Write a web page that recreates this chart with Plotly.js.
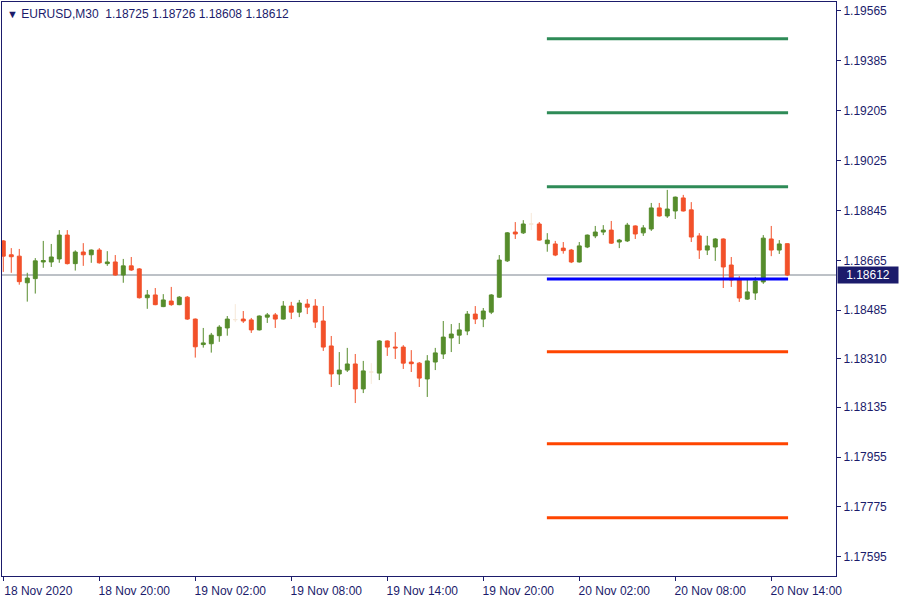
<!DOCTYPE html>
<html>
<head>
<meta charset="utf-8">
<script src="https://cdn.plot.ly/plotly-3.0.1.min.js"></script>
<style>html,body{margin:0;padding:0;background:#fff;}#chart{width:900px;height:600px;}</style>
</head>
<body>
<div id="chart"></div>
<script>
// ---- Data (EURUSD, M30; bar 0 = 18 Nov 2020 14:00) ----
const symbol = "EURUSD,M30";
const open = [1.18735,1.18685,1.18680,1.18584,1.18599,1.18659,1.18659,1.18670,1.18756,1.18653,
1.18695,1.18685,1.18702,1.18653,1.18659,1.18612,1.18645,1.18634,1.18530,1.18540,
1.18498,1.18518,1.18505,1.18532,1.18453,1.18361,1.18364,1.18393,1.18421,1.18451,
1.18453,1.18450,1.18414,1.18460,1.18468,1.18453,1.18500,1.18478,1.18507,1.18500,
1.18446,1.18356,1.18255,1.18269,1.18291,1.18201,1.18262,1.18258,1.18374,1.18352,
1.18352,1.18298,1.18294,1.18237,1.18298,1.18327,1.18385,1.18395,1.18410,1.18471,
1.18453,1.18478,1.18532,1.18663,1.18767,1.18764,1.18796,1.18796,1.18725,1.18724,
1.18709,1.18702,1.18659,1.18713,1.18753,1.18767,1.18774,1.18731,1.18735,1.18789,
1.18764,1.18778,1.18854,1.18825,1.18843,1.18890,1.18847,1.18753,1.18702,1.18713,
1.18742,1.18648,1.18594,1.18525,1.18547,1.18587,1.18742,1.18702,1.18725];
const high = [1.18738,1.18709,1.18706,1.18620,1.18673,1.18735,1.18724,1.18774,1.18774,1.18701,
1.18727,1.18704,1.18709,1.18698,1.18684,1.18670,1.18677,1.18637,1.18558,1.18565,
1.18543,1.18569,1.18536,1.18536,1.18455,1.18421,1.18403,1.18431,1.18464,1.18507,
1.18482,1.18457,1.18466,1.18475,1.18475,1.18518,1.18515,1.18522,1.18525,1.18525,
1.18500,1.18392,1.18334,1.18349,1.18327,1.18302,1.18294,1.18377,1.18376,1.18406,
1.18359,1.18341,1.18298,1.18323,1.18349,1.18446,1.18435,1.18439,1.18482,1.18500,
1.18493,1.18543,1.18684,1.18767,1.18803,1.18810,1.18836,1.18803,1.18763,1.18735,
1.18731,1.18706,1.18731,1.18758,1.18789,1.18792,1.18807,1.18742,1.18800,1.18791,
1.18792,1.18872,1.18872,1.18919,1.18895,1.18901,1.18875,1.18763,1.18753,1.18745,
1.18744,1.18677,1.18608,1.18594,1.18605,1.18756,1.18789,1.18738,1.18726];
const low = [1.18623,1.18620,1.18577,1.18516,1.18545,1.18638,1.18641,1.18656,1.18650,1.18628,
1.18645,1.18656,1.18653,1.18645,1.18610,1.18584,1.18627,1.18527,1.18490,1.18503,
1.18496,1.18501,1.18503,1.18450,1.18314,1.18350,1.18332,1.18371,1.18393,1.18442,
1.18439,1.18403,1.18412,1.18439,1.18421,1.18451,1.18453,1.18460,1.18471,1.18421,
1.18338,1.18208,1.18215,1.18262,1.18150,1.18186,1.18219,1.18233,1.18320,1.18309,
1.18273,1.18262,1.18208,1.18172,1.18269,1.18309,1.18334,1.18363,1.18395,1.18435,
1.18424,1.18471,1.18529,1.18659,1.18742,1.18760,1.18774,1.18736,1.18696,1.18680,
1.18689,1.18655,1.18657,1.18709,1.18745,1.18756,1.18724,1.18709,1.18731,1.18742,
1.18753,1.18771,1.18823,1.18818,1.18814,1.18841,1.18731,1.18670,1.18684,1.18663,
1.18565,1.18569,1.18515,1.18522,1.18522,1.18580,1.18680,1.18688,1.18608];
const close = [1.18680,1.18678,1.18588,1.18601,1.18663,1.18664,1.18677,1.18756,1.18653,1.18695,
1.18685,1.18702,1.18656,1.18659,1.18612,1.18645,1.18630,1.18530,1.18540,1.18505,
1.18522,1.18505,1.18532,1.18453,1.18353,1.18367,1.18395,1.18424,1.18453,1.18451,
1.18446,1.18414,1.18464,1.18468,1.18453,1.18500,1.18478,1.18511,1.18496,1.18442,
1.18352,1.18255,1.18269,1.18291,1.18201,1.18266,1.18262,1.18374,1.18352,1.18349,
1.18294,1.18292,1.18240,1.18302,1.18331,1.18388,1.18399,1.18414,1.18471,1.18453,
1.18482,1.18540,1.18666,1.18764,1.18760,1.18796,1.18796,1.18738,1.18738,1.18684,
1.18700,1.18659,1.18717,1.18756,1.18767,1.18774,1.18727,1.18738,1.18792,1.18760,
1.18782,1.18854,1.18825,1.18850,1.18893,1.18843,1.18749,1.18702,1.18717,1.18742,
1.18641,1.18594,1.18529,1.18551,1.18590,1.18745,1.18702,1.18724,1.18612];

// time axis tick labels (every 12 bars = 6 hours)
const xTickBars = [0, 12, 24, 36, 48, 60, 72, 84, 96];
const xTickText = ["18 Nov 2020","18 Nov 20:00","19 Nov 02:00","19 Nov 08:00","19 Nov 14:00","19 Nov 20:00","20 Nov 02:00","20 Nov 08:00","20 Nov 14:00"];
const yTickText = ["1.19565","1.19385","1.19205","1.19025","1.18845","1.18665","1.18485","1.18310","1.18135","1.17955","1.17775","1.17595"];

// pivot-type levels for 20 Nov (start bar, end bar)
const levelStartBar = 68, levelEndBar = 98;
const resistLevels = [1.19464, 1.19197, 1.18930];
const pivotLevel = [1.18598];
const supportLevels = [1.18335, 1.18003, 1.17736];

// ---- Build traces ----
const NAVY = "#1b1b6b";
const UP = "#568c2c", DOWN = "#f2512a", DOJI = "#f6e8d8";
const idx = open.map((_, i) => i);
const normal = idx.filter(i => open[i] !== close[i]);
const doji = idx.filter(i => open[i] === close[i]);
function pick(arr, ids){ return ids.map(i => arr[i]); }

const traces = [];
function levelTrace(vals, color){
  const xs = [], ys = [];
  vals.forEach(v => { xs.push(levelStartBar - 0.05, levelEndBar + 0.1, null); ys.push(v, v, null); });
  return {type:'scatter', mode:'lines', x:xs, y:ys, line:{color:color, width:3}, hoverinfo:'skip', showlegend:false};
}
traces.push(levelTrace(resistLevels, "#2e8b57"));
traces.push(levelTrace(supportLevels, "#ff4500"));
traces.push(levelTrace(pivotLevel, "#0000ff"));

traces.push({
  type:'candlestick', x:pick(idx, normal), open:pick(open, normal), high:pick(high, normal),
  low:pick(low, normal), close:pick(close, normal),
  increasing:{line:{color:UP, width:1}, fillcolor:UP},
  decreasing:{line:{color:DOWN, width:1}, fillcolor:DOWN},
  whiskerwidth:0, showlegend:false, hoverinfo:'skip'
});
traces.push({
  type:'candlestick', x:pick(idx, doji), open:pick(open, doji), high:pick(high, doji),
  low:pick(low, doji), close:pick(close, doji),
  increasing:{line:{color:DOJI, width:1}, fillcolor:DOJI},
  decreasing:{line:{color:DOJI, width:1}, fillcolor:DOJI},
  whiskerwidth:0, showlegend:false, hoverinfo:'skip'
});

const last = open.length - 1;
const fmt = v => v.toFixed(5);
const header = '<span style="font-size:11px">▼</span> ' + symbol + '\u00a0\u00a0' +
  [open[last], high[last], low[last], close[last]].map(fmt).join(' ');

const layout = {
  width:900, height:600,
  margin:{l:2, r:64, t:2, b:24},
  paper_bgcolor:'#ffffff', plot_bgcolor:'#ffffff',
  showlegend:false,
  font:{family:'"Liberation Sans", Arial, sans-serif', size:12, color:NAVY},
  xaxis:{
    range:[-0.16, 104.09], tickmode:'array', tickvals:xTickBars, ticktext:xTickText,
    showgrid:false, zeroline:false, showline:true, mirror:true, linecolor:NAVY, linewidth:1,
    ticks:'outside', ticklen:4, tickcolor:NAVY, tickfont:{size:12, color:NAVY},
    ticklabelshift:35, rangeslider:{visible:false}, fixedrange:true
  },
  yaxis:{
    side:'right', range:[1.17526, 1.19597], tickmode:'array',
    tickvals:yTickText.map(Number), ticktext:yTickText,
    showgrid:false, zeroline:false, showline:true, mirror:true, linecolor:NAVY, linewidth:1,
    ticks:'outside', ticklen:4, tickcolor:NAVY, tickfont:{size:12, color:NAVY}, fixedrange:true
  },
  shapes:[{type:'line', xref:'paper', x0:0, x1:1, yref:'y', y0:close[last], y1:close[last],
    line:{color:'#7a838e', width:1}, layer:'below'}],
  annotations:[
    {xref:'paper', yref:'paper', x:0, y:1, xanchor:'left', yanchor:'top', xshift:3, yshift:-3,
     text:header, showarrow:false, font:{size:12, color:NAVY}},
    {xref:'paper', yref:'y', x:1, y:close[last], xanchor:'left', yanchor:'middle', xshift:1,
     text:fmt(close[last]), showarrow:false, bgcolor:NAVY, font:{size:12, color:'#ffffff'},
     borderpad:1, width:58}
  ]
};

Plotly.newPlot('chart', traces, layout, {displayModeBar:false, staticPlot:true});
</script>
</body>
</html>
